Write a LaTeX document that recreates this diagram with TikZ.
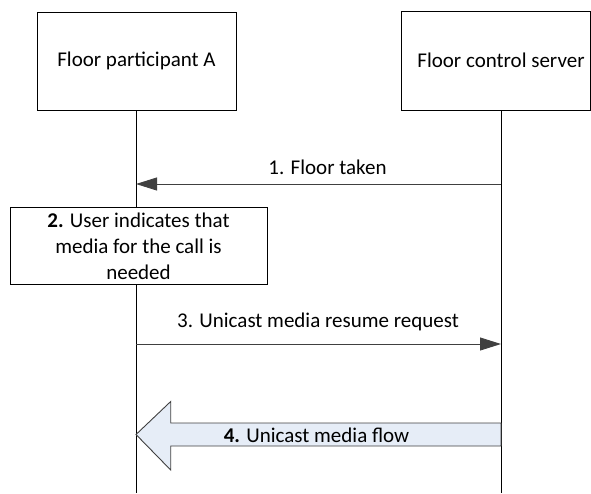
\documentclass[tikz,border=0pt]{standalone}
\usepackage{fontspec}
\setmainfont{Carlito}
\usetikzlibrary{arrows.meta,calc}
\definecolor{linegray}{HTML}{404040}
\definecolor{flowblue}{HTML}{E6EDF7}
\begin{document}
\begin{tikzpicture}[x=1pt,y=-1pt,
  box/.style={draw=black, fill=white, line width=0.8pt, align=center, inner sep=0pt, font=\fontsize{21}{26}\selectfont},
  lifeline/.style={draw=black, line width=0.8pt},
  msg/.style={draw=linegray, line width=0.9pt, -{Triangle[length=21pt,width=13pt]}},
  lbl/.style={font=\fontsize{21}{26}\selectfont, inner sep=0pt},
  flow/.style={draw=linegray, fill=flowblue, line width=0.9pt, line join=miter}]
\useasboundingbox (0,0) rectangle (591,493);
% header boxes
\node[box, minimum width=199pt, minimum height=98pt] (A) at (136.5,61) {Floor participant A};
\node[box, minimum width=189.5pt, minimum height=99pt] (S) at (495.75,60.5) {\hspace*{10.5pt}Floor control server};
% lifelines
\coordinate (Atop) at (136,110);
\coordinate (Abot) at (136,493);
\coordinate (Stop) at (501,110);
\coordinate (Sbot) at (501,493);
\draw[lifeline] (Atop) -- (Abot);
\draw[lifeline] (Stop) -- (Sbot);
% message 1
\coordinate (m1s) at (501,184);
\coordinate (m1e) at (136,184);
\draw[msg] (m1s) -- (m1e);
\node[lbl] (l1) at (327.5,167) {1. Floor taken};
% step 2
\node[box, minimum width=257pt, minimum height=76.6pt] (B) at (138.5,246) {\textbf{2.} User indicates that\\media for the call is\\needed};
% message 3
\coordinate (m3s) at (136,344);
\coordinate (m3e) at (501,344);
\draw[msg] (m3s) -- (m3e);
\node[lbl] (l3) at (318,322) {3. Unicast media resume request};
% flow 4
\coordinate (ftail) at (501,434.5);
\coordinate (ftip) at (136,434.5);
\draw[flow] ($(ftail)+(0,-11.5)$) -- ($(ftip)+(34.7,-11.5)$) -- ($(ftip)+(34.7,-33)$) -- (ftip)
  -- ($(ftip)+(34.7,35.5)$) -- ($(ftip)+(34.7,11.5)$) -- ($(ftail)+(0,11.5)$) -- cycle;
\node[lbl] (l4) at (316.5,435) {\textbf{4.} Unicast media flow};
\end{tikzpicture}
\end{document}
